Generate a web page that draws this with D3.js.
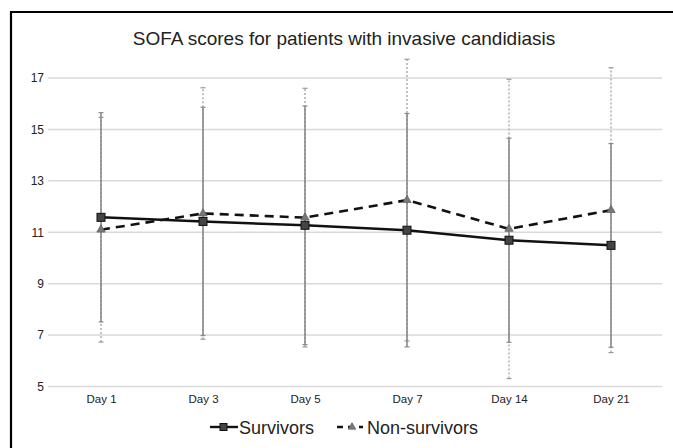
<!DOCTYPE html>
<html>
<head>
<meta charset="utf-8">
<script src="https://cdn.jsdelivr.net/npm/d3@7/dist/d3.min.js"></script>
<style>
  html, body { margin: 0; padding: 0; background: #fff; }
  svg { display: block; font-family: "Liberation Sans", Arial, sans-serif; }
</style>
</head>
<body>
<svg id="chart" width="673" height="448"></svg>
<script>
// SOFA scores by day, mean ± SD for each outcome group
const days = ["Day 1", "Day 3", "Day 5", "Day 7", "Day 14", "Day 21"];
const survivorMean = [11.58, 11.42, 11.27, 11.08, 10.69, 10.49];
const survivorSD = [4.07, 4.44, 4.64, 4.54, 3.97, 3.96];
const nonSurvivorMean = [11.10, 11.73, 11.57, 12.25, 11.13, 11.86];
const nonSurvivorSD = [4.37, 4.89, 5.03, 5.48, 5.82, 5.54];
const yTicks = [5, 7, 9, 11, 13, 15, 17];

const svg = d3.select("#chart");

// outer frame
svg.append("path")
  .attr("d", "M11,460 L11,12 L680,12")
  .attr("fill", "none")
  .attr("stroke", "#000")
  .attr("stroke-width", 2.2);

svg.append("text")
  .attr("x", 344).attr("y", 45)
  .attr("text-anchor", "middle")
  .attr("font-size", 19)
  .attr("fill", "#222")
  .text("SOFA scores for patients with invasive candidiasis");

const x = d3.scalePoint().domain(days).range([50, 662]).padding(0.5);
const y = d3.scaleLinear().domain([5, 17]).range([386.5, 78]);

// horizontal gridlines
svg.append("g").selectAll("line").data(yTicks).join("line")
  .attr("x1", 48).attr("x2", 662)
  .attr("y1", d => y(d)).attr("y2", d => y(d))
  .attr("stroke", "#d9d9d9").attr("stroke-width", 1.5);

// y-axis tick labels
const yAxis = d3.axisLeft(y).tickValues(yTicks).tickSize(0).tickPadding(0);
const gy = svg.append("g").attr("transform", "translate(44,0)").call(yAxis);
gy.select(".domain").remove();
gy.selectAll("text")
  .attr("font-size", 12)
  .attr("font-family", "Liberation Sans, Arial, sans-serif")
  .attr("fill", "#222");

// x-axis tick labels
const xAxis = d3.axisBottom(x).tickSize(0).tickPadding(0);
const gx = svg.append("g").attr("transform", "translate(0,395)").call(xAxis);
gx.select(".domain").remove();
gx.selectAll("text")
  .attr("font-size", 11.5)
  .attr("font-family", "Liberation Sans, Arial, sans-serif")
  .attr("fill", "#222");

function errorBars(means, sds, dash, color, width) {
  const g = svg.append("g");
  const data = days.map((d, i) => ({ d, lo: means[i] - sds[i], hi: means[i] + sds[i] }));
  g.selectAll("line.bar").data(data).join("line")
    .attr("class", "bar")
    .attr("x1", d => x(d.d)).attr("x2", d => x(d.d))
    .attr("y1", d => y(d.lo)).attr("y2", d => y(d.hi))
    .attr("stroke", color).attr("stroke-width", width)
    .attr("stroke-dasharray", dash);
  ["lo", "hi"].forEach(k => {
    g.selectAll("line.cap-" + k).data(data).join("line")
      .attr("class", "cap-" + k)
      .attr("x1", d => x(d.d) - 2.5).attr("x2", d => x(d.d) + 2.5)
      .attr("y1", d => y(d[k])).attr("y2", d => y(d[k]))
      .attr("stroke", color).attr("stroke-width", 1.2);
  });
}

// non-survivor SD bars (dotted) beneath survivor SD bars (solid)
errorBars(nonSurvivorMean, nonSurvivorSD, "2,2", "#999", 1.2);
errorBars(survivorMean, survivorSD, null, "#8a8a8a", 1.6);

const line = d3.line().x((v, i) => x(days[i])).y(v => y(v));

svg.append("path").datum(nonSurvivorMean)
  .attr("d", line)
  .attr("fill", "none").attr("stroke", "#111")
  .attr("stroke-width", 2.6).attr("stroke-dasharray", "9,6");

svg.append("path").datum(survivorMean)
  .attr("d", line)
  .attr("fill", "none").attr("stroke", "#111")
  .attr("stroke-width", 2.5);

const tri = d3.symbol().type(d3.symbolTriangle).size(30);
svg.append("g").selectAll("path").data(nonSurvivorMean).join("path")
  .attr("d", tri)
  .attr("transform", (v, i) => `translate(${x(days[i])},${y(v)})`)
  .attr("fill", "#777").attr("stroke", "#666").attr("stroke-width", 0.8);

svg.append("g").selectAll("rect").data(survivorMean).join("rect")
  .attr("x", (v, i) => x(days[i]) - 4).attr("y", v => y(v) - 4)
  .attr("width", 8).attr("height", 8)
  .attr("fill", "#444").attr("stroke", "#111").attr("stroke-width", 1);

// legend
const lg = svg.append("g").attr("transform", "translate(0,427)");
lg.append("line").attr("x1", 210).attr("x2", 238).attr("y1", 0).attr("y2", 0)
  .attr("stroke", "#111").attr("stroke-width", 2.4);
lg.append("rect").attr("x", 220).attr("y", -3.5).attr("width", 7).attr("height", 7)
  .attr("fill", "#444").attr("stroke", "#111").attr("stroke-width", 1);
lg.append("text").attr("x", 239).attr("y", 6.5)
  .attr("font-size", 18).attr("fill", "#222").text("Survivors");

lg.append("line").attr("x1", 337).attr("x2", 363).attr("y1", 0).attr("y2", 0)
  .attr("stroke", "#111").attr("stroke-width", 2.4).attr("stroke-dasharray", "6,5");
lg.append("path").attr("d", d3.symbol().type(d3.symbolTriangle).size(24))
  .attr("transform", "translate(352,0)")
  .attr("fill", "#777").attr("stroke", "#666").attr("stroke-width", 0.8);
lg.append("text").attr("x", 367).attr("y", 6.5)
  .attr("font-size", 18).attr("fill", "#222").text("Non-survivors");
</script>
</body>
</html>
